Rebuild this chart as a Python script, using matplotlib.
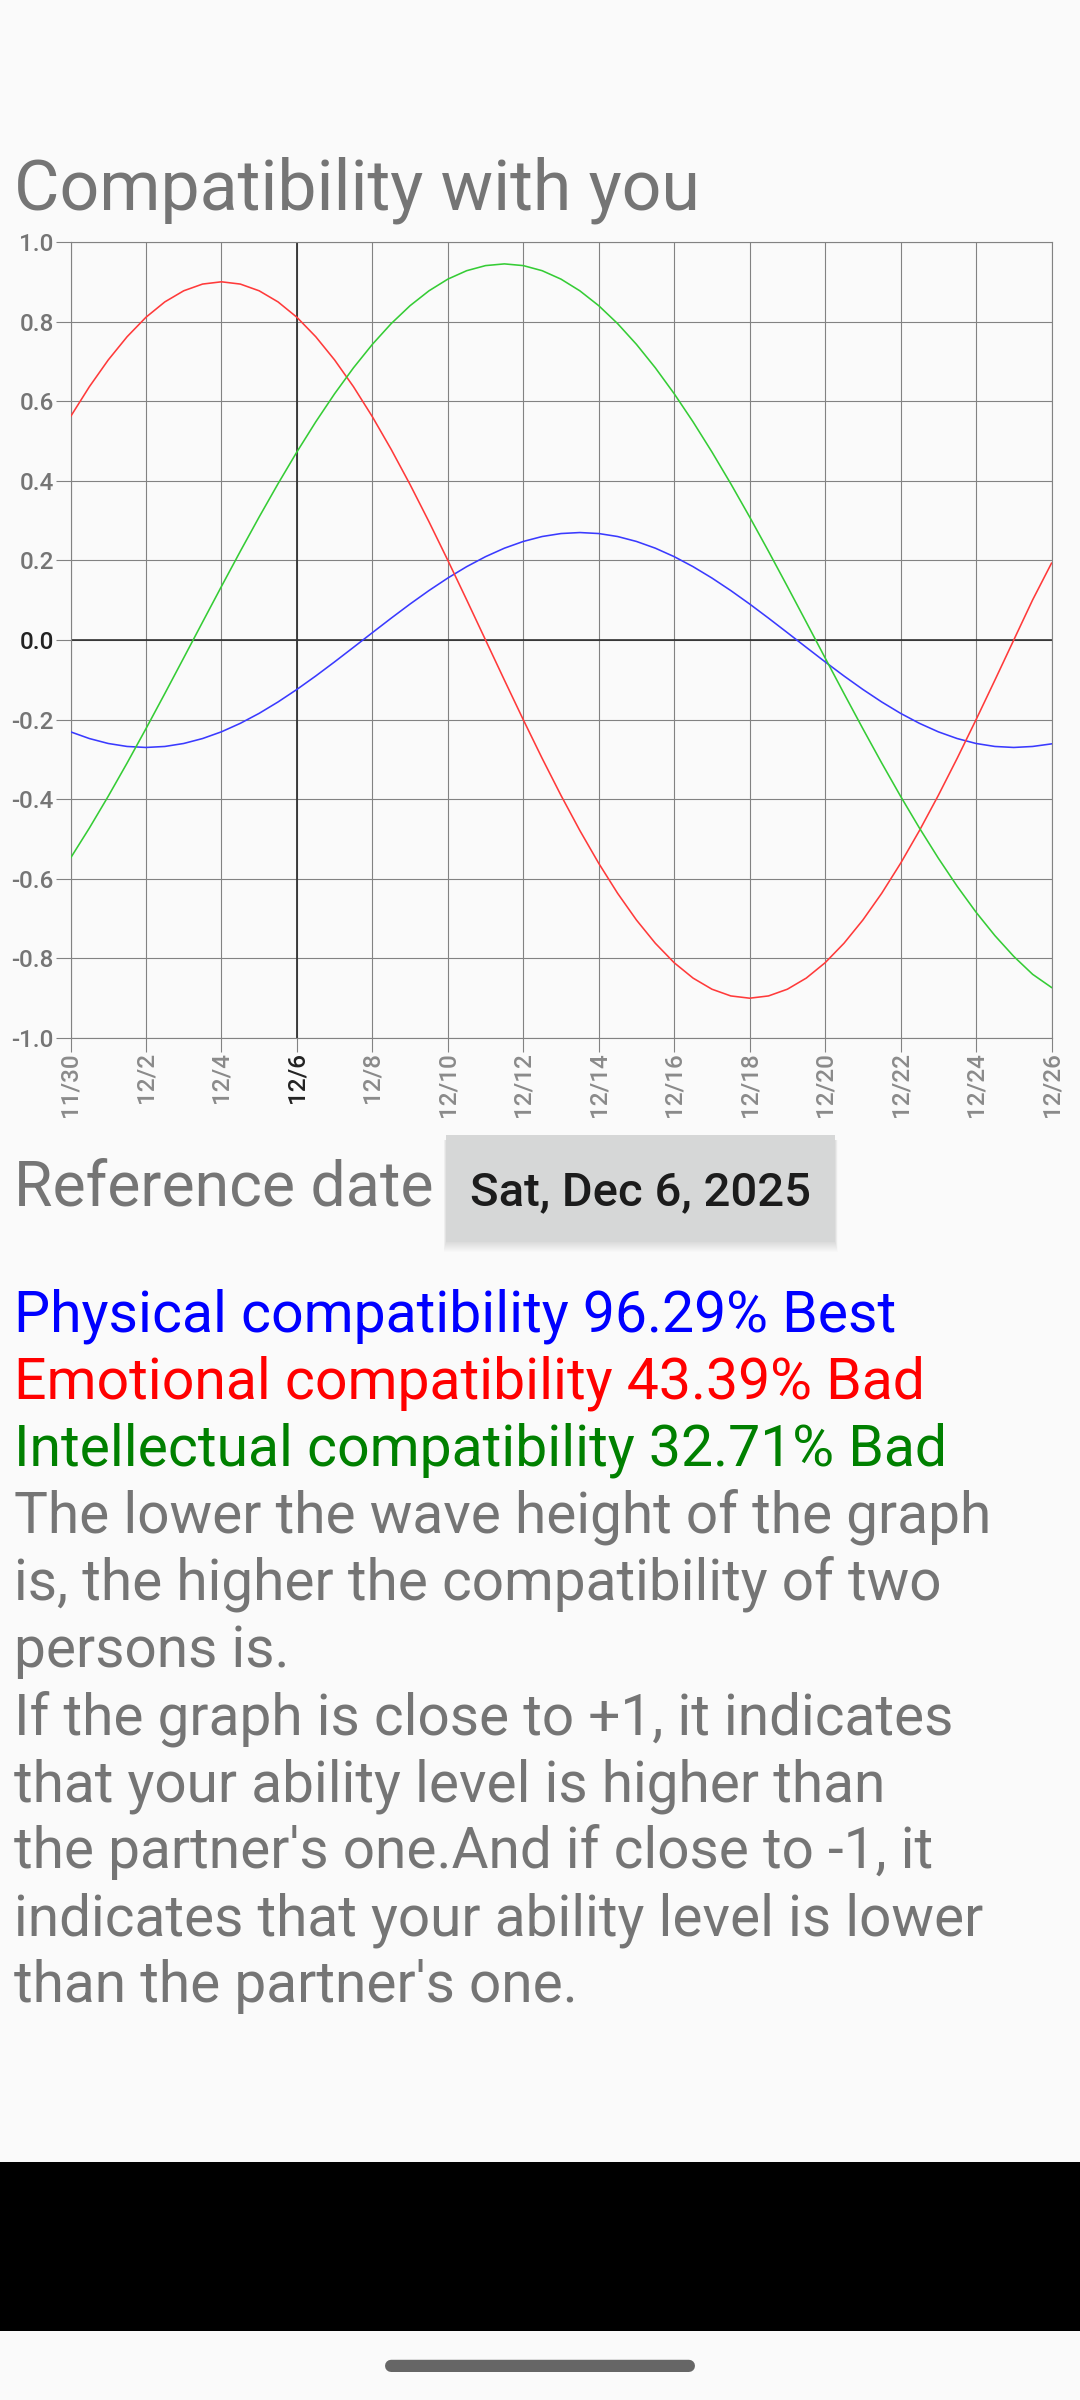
import numpy as np
import matplotlib
matplotlib.use("Agg")
import matplotlib.pyplot as plt
from matplotlib.patches import Rectangle, FancyBboxPatch

plt.rcParams['font.family'] = ['Roboto', 'DejaVu Sans']

W, H = 1080, 2400

date_labels = ['11/30', '12/2', '12/4', '12/6', '12/8', '12/10', '12/12', '12/14',
               '12/16', '12/18', '12/20', '12/22', '12/24', '12/26']
y_ticks = [1.0, 0.8, 0.6, 0.4, 0.2, 0.0, -0.2, -0.4, -0.6, -0.8, -1.0]
reference_label = '12/6'

# values read every half day from 11/30 to 12/26
physical = [-.2307, -.2476, -.2600, -.2675, -.2700, -.2675, -.2600, -.2476, -.2307, -.2094,
            -.1843, -.1557, -.1242, -.0904, -.0549, -.0184, .0184, .0549, .0904, .1242,
            .1557, .1843, .2094, .2307, .2476, .2600, .2675, .2700, .2675, .2600,
            .2476, .2307, .2094, .1843, .1557, .1242, .0904, .0549, .0184, -.0184,
            -.0549, -.0904, -.1242, -.1557, -.1843, -.2094, -.2307, -.2476, -.2600, -.2675,
            -.2700, -.2675, -.2610]
emotional = [.5611, .6364, .7036, .7620, .8109, .8495, .8774, .8943, .9000, .8943,
             .8774, .8495, .8109, .7620, .7036, .6364, .5611, .4788, .3905, .2973,
             .2003, .1008, .0000, -.1008, -.2003, -.2973, -.3905, -.4788, -.5611, -.6364,
             -.7036, -.7620, -.8109, -.8495, -.8774, -.8943, -.9000, -.8943, -.8774, -.8495,
             -.8109, -.7620, -.7036, -.6364, -.5611, -.4788, -.3905, -.2973, -.2003, -.1008,
             .0000, .1008, .1930]
intellectual = [-.5481, -.4725, -.3926, -.3091, -.2228, -.1345, -.0450, .0450, .1345, .2228,
                .3091, .3926, .4725, .5481, .6188, .6839, .7428, .7950, .8400, .8773,
                .9067, .9279, .9407, .9450, .9407, .9279, .9067, .8773, .8400, .7950,
                .7428, .6839, .6188, .5481, .4725, .3926, .3091, .2228, .1345, .0450,
                -.0450, -.1345, -.2228, -.3091, -.3926, -.4725, -.5481, -.6188, -.6839, -.7428,
                -.7950, -.8400, -.8730]

title = 'Compatibility with you'
ref_text = 'Reference date'
button_text = 'Sat, Dec 6, 2025'
result_lines = [('Physical compatibility 96.29% Best', '#0000FF'),
                ('Emotional compatibility 43.39% Bad', '#FF0000'),
                ('Intellectual compatibility 32.71% Bad', '#008000')]
body_lines = ['The lower the wave height of the graph',
              'is, the higher the compatibility of two',
              'persons is.',
              'If the graph is close to +1, it indicates',
              'that your ability level is higher than',
              "the partner's one.And if close to -1, it",
              'indicates that your ability level is lower',
              "than the partner's one."]

BG = '#FAFAFA'
GRID = '#828282'
GRAY = '#757575'

fig = plt.figure(figsize=(W / 100, H / 100), dpi=100, facecolor=BG)


def fx(x):
    return x / W


def fy(y):
    return 1 - y / H


def put(x, y, s, size, color, **kw):
    fig.text(fx(x), fy(y), s, fontsize=size, color=color, va='baseline', ha='left', **kw)


def rect(x0, y0, x1, y1, color, **kw):
    fig.add_artist(Rectangle((fx(x0), fy(y1)), (x1 - x0) / W, (y1 - y0) / H,
                             transform=fig.transFigure, facecolor=color, edgecolor='none', **kw))


L, R, T, B = 70.5, 1051.5, 242.0, 1038.0
ax = fig.add_axes([fx(L), fy(B), (R - L) / W, (B - T) / H], facecolor=BG)
days = np.arange(len(physical)) / 2
tick_days = np.arange(len(date_labels)) * 2
ax.plot(days, physical, color='#3A3AFF', lw=1.15, zorder=3)
ax.plot(days, emotional, color='#FF3A3A', lw=1.15, zorder=3)
ax.plot(days, intellectual, color='#35CC35', lw=1.15, zorder=3)
ax.set_xlim(0, 26)
ax.set_ylim(-1, 1)
ax.set_xticks(tick_days)
ax.set_xticklabels(date_labels, rotation=90, fontsize=17.5, color='#8A8A8A', fontweight='medium')
ax.set_yticks(y_ticks)
ax.set_yticklabels([f'{v:.1f}' for v in y_ticks], fontsize=17.5, color=GRAY, fontweight='medium')
ax.grid(True, color=GRID, lw=0.8, zorder=1)
ax.tick_params(axis='x', length=10, width=0.8, color=GRID, pad=0)
ax.tick_params(axis='y', length=11, width=0.8, color=GRID, pad=1)
for s in ax.spines.values():
    s.set_color(GRID)
    s.set_linewidth(0.8)
ax.axhline(0, color='#222222', lw=1.1, zorder=2)
ref_x = tick_days[date_labels.index(reference_label)]
ax.axvline(ref_x, color='#333333', lw=1.3, zorder=2)
for lab in ax.get_xticklabels():
    if lab.get_text() == reference_label:
        lab.set_color('#222222')
for lab in ax.get_yticklabels():
    if lab.get_text() == '0.0':
        lab.set_color('#222222')

put(14, 209, title, 50.3, GRAY)
put(14, 1205, ref_text, 45, GRAY)

# button with soft shadow
for i in range(10, 0, -1):
    rect(446 - i * 0.25, 1140, 835 + i * 0.25, 1242 + i, '#000000', alpha=0.010)
rect(446, 1135, 835, 1242, '#D6D7D7')
put(470, 1205, button_text, 34, '#1C1C1C', fontweight='medium')

y0, dy = 1331.5, 67.1
for i, (s, c) in enumerate(result_lines):
    put(14, y0 + i * dy, s, 41.1, c)
for i, s in enumerate(body_lines):
    put(14, y0 + (i + len(result_lines)) * dy, s, 40.85, GRAY)

rect(0, 2162, W, 2331, '#000000')
fig.add_artist(FancyBboxPatch((fx(391), fy(2366)), 298 / W, 0.0001, transform=fig.transFigure,
                              boxstyle='round,pad=0', facecolor='#666666', edgecolor='#666666',
                              lw=8.6, capstyle='round', joinstyle='round'))

fig.savefig('out.png', dpi=100, facecolor=BG)
